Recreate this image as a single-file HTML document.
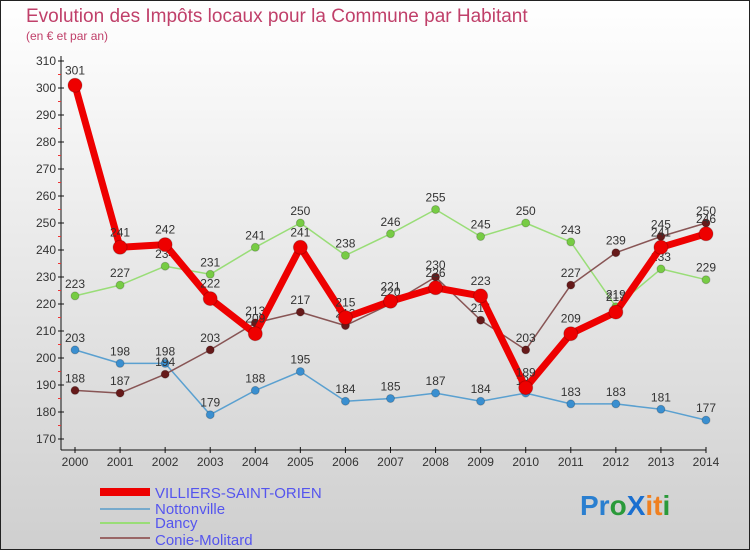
<!DOCTYPE html>
<html><head><meta charset="utf-8"><style>
body{margin:0;width:750px;height:550px;overflow:hidden;font-family:"Liberation Sans",sans-serif}
svg text{font-family:"Liberation Sans",sans-serif}
</style></head><body>
<svg id="c" width="750" height="550">
<defs><linearGradient id="bg" x1="0" y1="0" x2="0" y2="1"><stop offset="0" stop-color="#ffffff"/><stop offset="1" stop-color="#cfcfcf"/></linearGradient></defs>
<rect x="0.5" y="0.5" width="749" height="549" fill="url(#bg)" stroke="#222"/>
<text x="26" y="22" font-size="19" fill="#c0406a">Evolution des Impôts locaux pour la Commune par Habitant</text>
<text x="26" y="40" font-size="12" fill="#c0406a">(en € et par an)</text>
<g id="axes"></g><g id="series"></g>
<g>
<rect x="100" y="488" width="50" height="8" fill="#ee0000"/>
<text x="155" y="498" font-size="15" fill="#5555ee">VILLIERS-SAINT-ORIEN</text>
<rect x="100" y="508" width="50" height="2" fill="#77aacc"/>
<text x="155" y="514" font-size="15" fill="#5555ee">Nottonville</text>
<rect x="100" y="522" width="50" height="2" fill="#99dd77"/>
<text x="155" y="528" font-size="15" fill="#5555ee">Dancy</text>
<rect x="100" y="537" width="50" height="2" fill="#996666"/>
<text x="155" y="545" font-size="15" fill="#5555ee">Conie-Molitard</text>
</g>
<g font-size="28" font-weight="bold">
<text x="580" y="515"><tspan fill="#2a7fd0">Pr</tspan><tspan fill="#2a9a3a">o</tspan><tspan fill="#1a6fd0">X</tspan><tspan fill="#f08020">it</tspan><tspan fill="#2a9a3a">i</tspan></text>
</g>
</svg>
<script>
const years=["2000","2001","2002","2003","2004","2005","2006","2007","2008","2009","2010","2011","2012","2013","2014"];
const yTicks=[170,180,190,200,210,220,230,240,250,260,270,280,290,300,310];
const villiers=[301,241,242,222,209,241,215,221,226,223,189,209,217,241,246];
const nottonville=[203,198,198,179,188,195,184,185,187,184,187,183,183,181,177];
const dancy=[223,227,234,231,241,250,238,246,255,245,250,243,219,233,229];
const conie=[188,187,194,203,213,217,212,220,230,214,203,227,239,245,250];
const NS="http://www.w3.org/2000/svg";
const X=i=>75+i*(706-75)/14;
const Y=v=>439-(v-170)*(439-61)/140;
function mk(t,a,p){const e=document.createElementNS(NS,t);for(const k in a)e.setAttribute(k,a[k]);p.appendChild(e);return e;}
const ax=document.getElementById('axes'),sg=document.getElementById('series');
let l=mk('line',{x1:61,y1:56,x2:61,y2:450,stroke:'#111'},ax);


l=mk('line',{x1:61,y1:450,x2:706,y2:450,stroke:'#111'},ax);


yTicks.forEach(v=>{
 mk('line',{x1:58,x2:64,y1:Y(v),y2:Y(v),stroke:'#111'},ax);
 if(v<310)mk('line',{x1:58,x2:61,y1:Y(v+5),y2:Y(v+5),stroke:'#e33'},ax);
 const t=mk('text',{x:56,y:Y(v)+4,'font-size':12,'text-anchor':'end',fill:'#333'},ax);t.textContent=v;
 
 
});
years.forEach((y,i)=>{
 mk('line',{x1:X(i),x2:X(i),y1:447,y2:453,stroke:'#111'},ax);
 const t=mk('text',{x:X(i),y:466,'font-size':12,'text-anchor':'middle',fill:'#333'},ax);t.textContent=y;
 
 
});
function draw(name,data,color,w,r,dot){
 const g=mk('g',{},sg);
 
 
 mk('polyline',{points:data.map((v,i)=>X(i)+','+Y(v)).join(' '),fill:'none',stroke:color,'stroke-width':w,'stroke-linejoin':'round'},g);
 data.forEach((v,i)=>{
  const c=mk('circle',{cx:X(i),cy:Y(v),r:r,fill:dot,stroke:'#0003'},g);
  
  
  const t=mk('text',{x:X(i),y:Y(v)-8-(r>5?3:0),'font-size':12,'text-anchor':'middle',fill:'#333'},g);t.textContent=v;
  
  
 });
}
draw('nottonville',nottonville,'#5aa0d0',1.5,4,'#3a8fd0');
draw('dancy',dancy,'#99dd77',1.5,4,'#77cc44');
draw('conie',conie,'#885555',1.5,4,'#661a1a');
draw('villiers',villiers,'#ee0000',7,7,'#ee0000');
</script>
</body></html>
